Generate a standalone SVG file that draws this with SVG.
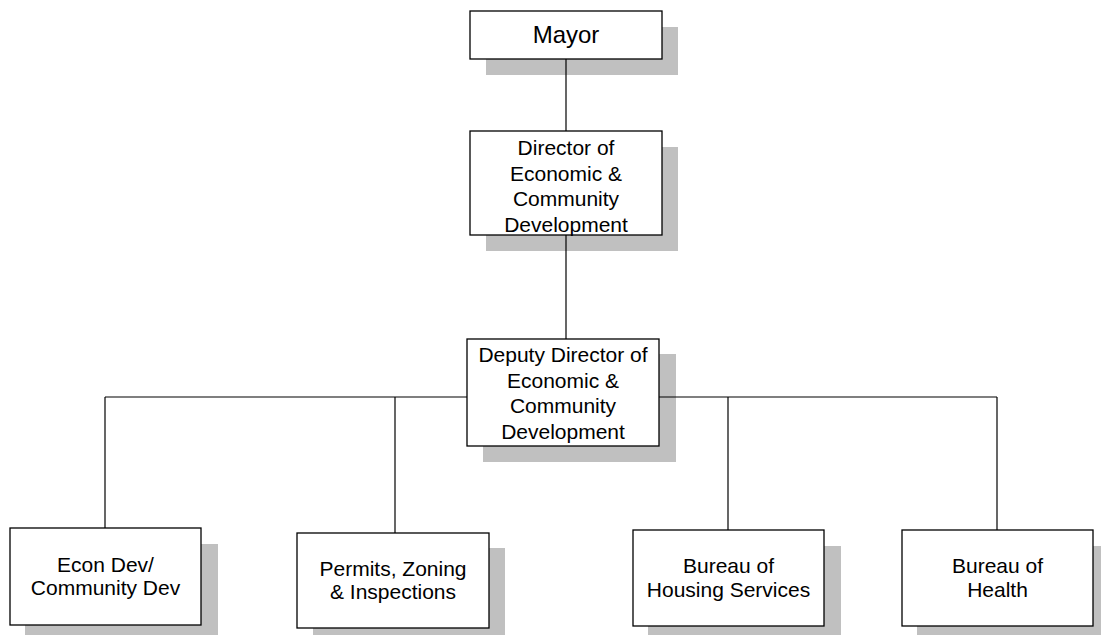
<svg xmlns="http://www.w3.org/2000/svg" width="1101" height="635" viewBox="0 0 1101 635">
  <style>
    .shadow { fill: #c0c0c0; stroke: none; }
    .box { fill: #ffffff; stroke: #000000; stroke-width: 1.3; }
    .link { stroke: #000000; stroke-width: 1.2; fill: none; }
    text { font-family: "Liberation Sans", Arial, sans-serif; font-size: 21px; fill: #000000; text-anchor: middle; }
    .big { font-size: 24px; }
  </style>
  <rect width="1101" height="635" fill="#ffffff"/>

  <!-- drop shadows sit beneath everything -->
  <g id="shadows">
    <rect class="shadow" x="486" y="27" width="192" height="48"/>
    <rect class="shadow" x="486" y="147" width="192" height="104"/>
    <rect class="shadow" x="483" y="354" width="193" height="108"/>
    <rect class="shadow" x="25" y="544" width="193" height="97"/>
    <rect class="shadow" x="313" y="548" width="192" height="95"/>
    <rect class="shadow" x="648" y="546" width="193" height="96"/>
    <rect class="shadow" x="917" y="546" width="192" height="96"/>
  </g>

  <g id="connectors">
    <line class="link" x1="566" y1="59" x2="566" y2="131"/>
    <line class="link" x1="566" y1="235" x2="566" y2="339"/>
    <line class="link" x1="105" y1="397" x2="997" y2="397"/>
    <line class="link" x1="105" y1="397" x2="105" y2="528"/>
    <line class="link" x1="395" y1="397" x2="395" y2="533"/>
    <line class="link" x1="728" y1="397" x2="728" y2="530"/>
    <line class="link" x1="997" y1="397" x2="997" y2="530"/>
  </g>

  <g id="mayor">
    <rect class="box" x="470" y="11" width="192" height="48"/>
    <text class="big" x="566" y="43">Mayor</text>
  </g>

  <g id="director">
    <rect class="box" x="470" y="131" width="192" height="104"/>
    <text x="566" y="155">Director of</text>
    <text x="566" y="180.5">Economic &amp;</text>
    <text x="566" y="206">Community</text>
    <text x="566" y="231.5">Development</text>
  </g>

  <g id="deputy-director">
    <rect class="box" x="467" y="339" width="192" height="107"/>
    <text x="563" y="362">Deputy Director of</text>
    <text x="563" y="387.5">Economic &amp;</text>
    <text x="563" y="413">Community</text>
    <text x="563" y="438.5">Development</text>
  </g>

  <g id="econ-dev">
    <rect class="box" x="10" y="528" width="191" height="97"/>
    <text x="105.5" y="571.5">Econ Dev/</text>
    <text x="105.5" y="594.5">Community Dev</text>
  </g>

  <g id="permits">
    <rect class="box" x="297" y="533" width="192" height="95"/>
    <text x="393" y="575.5">Permits, Zoning</text>
    <text x="393" y="598.5">&amp; Inspections</text>
  </g>

  <g id="housing">
    <rect class="box" x="633" y="530" width="191" height="96"/>
    <text x="728.5" y="572.5">Bureau of</text>
    <text x="728.5" y="597">Housing Services</text>
  </g>

  <g id="health">
    <rect class="box" x="902" y="530" width="191" height="96"/>
    <text x="997.5" y="572.5">Bureau of</text>
    <text x="997.5" y="597">Health</text>
  </g>
</svg>
